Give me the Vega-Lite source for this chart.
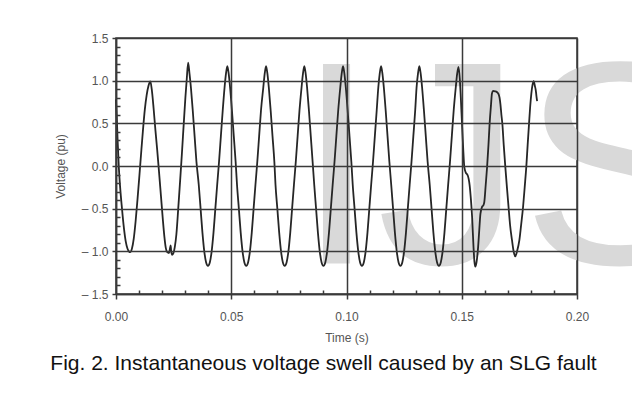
{
  "$schema": "https://vega.github.io/schema/vega-lite/v6.json",
  "width": 461,
  "height": 256,
  "autosize": {"type": "none"},
  "padding": {"left": 116, "top": 38, "right": 55, "bottom": 106},
  "background": "white",
  "config": {
    "view": {"stroke": "#3a3a3a", "strokeWidth": 1.5},
    "font": "Liberation Sans"
  },
  "title": {
    "text": "Fig. 2. Instantaneous voltage swell caused by an SLG fault",
    "orient": "bottom",
    "anchor": "middle",
    "fontSize": 21,
    "font": "Liberation Sans",
    "fontWeight": "normal",
    "color": "#111111",
    "dx": -23,
    "offset": 10
  },
  "resolve": {"axis": {"x": "independent", "y": "independent"}},
  "layer": [
    {
      "data": {"values": [{"mark": "IJS"}]},
      "mark": {"type": "text", "align": "left", "baseline": "alphabetic", "fontSize": 290, "font": "Liberation Sans", "color": "#d9d9d9"},
      "encoding": {
        "x": {
          "datum": 0.0782, "type": "quantitative",
          "axis": {
            "orient": "bottom", "title": null, "labels": false, "domain": false, "grid": false,
            "values": [0.01,0.02,0.03,0.04,0.06,0.07,0.08,0.09,0.11,0.12,0.13,0.14,0.16,0.17,0.18,0.19],
            "tickCount": 100, "tickSize": -4, "tickColor": "#3a3a3a", "tickWidth": 1.5, "zindex": 1
          }
        },
        "y": {
          "datum": -1.144, "type": "quantitative",
          "axis": {
            "orient": "left", "title": null, "labels": false, "domain": false, "grid": false,
            "values": [-1.4,-1.3,-1.2,-1.1,-0.9,-0.8,-0.7,-0.6,-0.4,-0.3,-0.2,-0.1,0.1,0.2,0.3,0.4,0.6,0.7,0.8,0.9,1.1,1.2,1.3,1.4],
            "tickCount": 100, "tickSize": -4, "tickColor": "#3a3a3a", "tickWidth": 1.5, "zindex": 1
          }
        },
        "text": {"field": "mark"}
      }
    },
    {
      "data": {"values": [
        {"t":0.0000,"v":0.78},{"t":0.0003,"v":0.6},{"t":0.0007,"v":0.3},{"t":0.0012,"v":0.0},{"t":0.0018,"v":-0.25},{"t":0.0026,"v":-0.5},{"t":0.0034,"v":-0.72},{"t":0.0042,"v":-0.88},{"t":0.0050,"v":-0.97},{"t":0.0056,"v":-1.0},{"t":0.0061,"v":-1.01},
        {"t":0.0069,"v":-0.97},{"t":0.0077,"v":-0.85},{"t":0.0085,"v":-0.65},{"t":0.0093,"v":-0.4},{"t":0.0101,"v":-0.13},{"t":0.0109,"v":0.15},{"t":0.0117,"v":0.42},{"t":0.0125,"v":0.66},{"t":0.0133,"v":0.83},{"t":0.0141,"v":0.94},{"t":0.0149,"v":0.99},
        {"t":0.0155,"v":0.9},{"t":0.0163,"v":0.68},{"t":0.0171,"v":0.42},{"t":0.0179,"v":0.18},{"t":0.0187,"v":-0.08},{"t":0.0195,"v":-0.35},{"t":0.0203,"v":-0.62},{"t":0.0210,"v":-0.83},{"t":0.0216,"v":-0.96},{"t":0.0222,"v":-1.01},{"t":0.0230,"v":-1.02},{"t":0.0234,"v":-0.97},{"t":0.0237,"v":-0.93},{"t":0.0239,"v":-0.99},{"t":0.0243,"v":-1.04},{"t":0.0249,"v":-1.02},{"t":0.0255,"v":-0.95},{"t":0.0262,"v":-0.8},{"t":0.0270,"v":-0.5},{"t":0.0278,"v":-0.18},{"t":0.0286,"v":0.15},{"t":0.0294,"v":0.5},{"t":0.0301,"v":0.8},{"t":0.0307,"v":1.02},{"t":0.0313,"v":1.21},
        {"t":0.0319,"v":1.08},{"t":0.0325,"v":0.92},{"t":0.0333,"v":0.65},{"t":0.0341,"v":0.35},{"t":0.0349,"v":0.05},{"t":0.0359,"v":-0.22},{"t":0.0367,"v":-0.5},{"t":0.0375,"v":-0.78},{"t":0.0383,"v":-1.0},{"t":0.0391,"v":-1.13},{"t":0.0399,"v":-1.17},
        {"t":0.0407,"v":-1.13},{"t":0.0415,"v":-1.0},{"t":0.0423,"v":-0.78},{"t":0.0431,"v":-0.5},{"t":0.0439,"v":-0.22},{"t":0.0447,"v":0.05},{"t":0.0455,"v":0.35},{"t":0.0463,"v":0.65},{"t":0.0471,"v":0.92},{"t":0.0477,"v":1.08},{"t":0.0483,"v":1.17},
        {"t":0.0489,"v":1.08},{"t":0.0495,"v":0.92},{"t":0.0503,"v":0.65},{"t":0.0511,"v":0.35},{"t":0.0519,"v":0.05},{"t":0.0525,"v":-0.22},{"t":0.0533,"v":-0.5},{"t":0.0541,"v":-0.78},{"t":0.0549,"v":-1.0},{"t":0.0557,"v":-1.13},{"t":0.0565,"v":-1.17},
        {"t":0.0573,"v":-1.13},{"t":0.0581,"v":-1.0},{"t":0.0589,"v":-0.78},{"t":0.0597,"v":-0.5},{"t":0.0605,"v":-0.22},{"t":0.0613,"v":0.05},{"t":0.0621,"v":0.35},{"t":0.0629,"v":0.65},{"t":0.0639,"v":0.92},{"t":0.0645,"v":1.08},{"t":0.0651,"v":1.17},
        {"t":0.0657,"v":1.08},{"t":0.0663,"v":0.92},{"t":0.0671,"v":0.65},{"t":0.0679,"v":0.35},{"t":0.0687,"v":0.05},{"t":0.0692,"v":-0.22},{"t":0.0700,"v":-0.5},{"t":0.0708,"v":-0.78},{"t":0.0716,"v":-1.0},{"t":0.0724,"v":-1.13},{"t":0.0732,"v":-1.17},
        {"t":0.0740,"v":-1.13},{"t":0.0748,"v":-1.0},{"t":0.0756,"v":-0.78},{"t":0.0764,"v":-0.5},{"t":0.0772,"v":-0.22},{"t":0.0780,"v":0.05},{"t":0.0788,"v":0.35},{"t":0.0796,"v":0.65},{"t":0.0805,"v":0.92},{"t":0.0811,"v":1.08},{"t":0.0817,"v":1.17},
        {"t":0.0823,"v":1.08},{"t":0.0829,"v":0.92},{"t":0.0837,"v":0.65},{"t":0.0845,"v":0.35},{"t":0.0853,"v":0.05},{"t":0.0860,"v":-0.22},{"t":0.0868,"v":-0.5},{"t":0.0876,"v":-0.78},{"t":0.0884,"v":-1.0},{"t":0.0892,"v":-1.13},{"t":0.0900,"v":-1.17},
        {"t":0.0908,"v":-1.13},{"t":0.0916,"v":-1.0},{"t":0.0924,"v":-0.78},{"t":0.0932,"v":-0.5},{"t":0.0940,"v":-0.22},{"t":0.0948,"v":0.05},{"t":0.0956,"v":0.35},{"t":0.0964,"v":0.65},{"t":0.0973,"v":0.92},{"t":0.0979,"v":1.08},{"t":0.0985,"v":1.17},
        {"t":0.0991,"v":1.08},{"t":0.0997,"v":0.92},{"t":0.1005,"v":0.65},{"t":0.1013,"v":0.35},{"t":0.1021,"v":0.05},{"t":0.1027,"v":-0.22},{"t":0.1035,"v":-0.5},{"t":0.1043,"v":-0.78},{"t":0.1051,"v":-1.0},{"t":0.1059,"v":-1.13},{"t":0.1067,"v":-1.17},
        {"t":0.1075,"v":-1.13},{"t":0.1083,"v":-1.0},{"t":0.1091,"v":-0.78},{"t":0.1099,"v":-0.5},{"t":0.1107,"v":-0.22},{"t":0.1115,"v":0.05},{"t":0.1123,"v":0.35},{"t":0.1131,"v":0.65},{"t":0.1138,"v":0.92},{"t":0.1144,"v":1.08},{"t":0.1150,"v":1.17},
        {"t":0.1156,"v":1.08},{"t":0.1162,"v":0.92},{"t":0.1170,"v":0.65},{"t":0.1178,"v":0.35},{"t":0.1186,"v":0.05},{"t":0.1194,"v":-0.22},{"t":0.1202,"v":-0.5},{"t":0.1210,"v":-0.78},{"t":0.1218,"v":-1.0},{"t":0.1226,"v":-1.13},{"t":0.1234,"v":-1.17},
        {"t":0.1242,"v":-1.13},{"t":0.1250,"v":-1.0},{"t":0.1258,"v":-0.78},{"t":0.1266,"v":-0.5},{"t":0.1274,"v":-0.22},{"t":0.1282,"v":0.05},{"t":0.1290,"v":0.35},{"t":0.1298,"v":0.65},{"t":0.1304,"v":0.92},{"t":0.1310,"v":1.08},{"t":0.1316,"v":1.17},
        {"t":0.1322,"v":1.08},{"t":0.1328,"v":0.92},{"t":0.1336,"v":0.65},{"t":0.1344,"v":0.35},{"t":0.1352,"v":0.05},{"t":0.1361,"v":-0.22},{"t":0.1369,"v":-0.5},{"t":0.1377,"v":-0.78},{"t":0.1385,"v":-1.0},{"t":0.1393,"v":-1.13},{"t":0.1401,"v":-1.17},
        {"t":0.1409,"v":-1.13},{"t":0.1417,"v":-1.0},{"t":0.1425,"v":-0.78},{"t":0.1433,"v":-0.5},{"t":0.1441,"v":-0.22},{"t":0.1449,"v":0.05},{"t":0.1457,"v":0.35},{"t":0.1465,"v":0.65},{"t":0.1474,"v":0.92},{"t":0.1480,"v":1.08},{"t":0.1486,"v":1.16},
        {"t":0.1492,"v":1.0},{"t":0.1496,"v":0.8},{"t":0.1501,"v":0.5},{"t":0.1506,"v":0.22},{"t":0.1511,"v":-0.01},{"t":0.1518,"v":-0.08},{"t":0.1524,"v":-0.1},{"t":0.1530,"v":-0.15},{"t":0.1534,"v":-0.22},{"t":0.1540,"v":-0.4},{"t":0.1545,"v":-0.6},{"t":0.1551,"v":-0.95},{"t":0.1555,"v":-1.12},{"t":0.1559,"v":-1.18},
        {"t":0.1564,"v":-1.13},{"t":0.1571,"v":-0.95},{"t":0.1576,"v":-0.75},{"t":0.1581,"v":-0.56},{"t":0.1588,"v":-0.48},{"t":0.1594,"v":-0.46},{"t":0.1598,"v":-0.42},{"t":0.1604,"v":-0.22},{"t":0.1610,"v":-0.01},{"t":0.1616,"v":0.25},{"t":0.1621,"v":0.5},{"t":0.1627,"v":0.72},{"t":0.1631,"v":0.85},{"t":0.1636,"v":0.88},{"t":0.1645,"v":0.875},{"t":0.1655,"v":0.86},{"t":0.1660,"v":0.84},{"t":0.1664,"v":0.8},{"t":0.1668,"v":0.72},{"t":0.1672,"v":0.6},{"t":0.1676,"v":0.5},{"t":0.1682,"v":0.25},{"t":0.1689,"v":-0.01},{"t":0.1696,"v":-0.25},{"t":0.1703,"v":-0.48},{"t":0.1710,"v":-0.7},{"t":0.1718,"v":-0.87},{"t":0.1725,"v":-1.0},{"t":0.1732,"v":-1.06},
        {"t":0.1740,"v":-1.0},{"t":0.1750,"v":-0.87},{"t":0.1758,"v":-0.68},{"t":0.1766,"v":-0.48},{"t":0.1773,"v":-0.25},{"t":0.1780,"v":-0.01},{"t":0.1786,"v":0.25},{"t":0.1792,"v":0.5},{"t":0.1797,"v":0.7},{"t":0.1802,"v":0.85},{"t":0.1807,"v":0.95},{"t":0.1812,"v":0.995},{"t":0.1817,"v":0.94},{"t":0.1821,"v":0.89},{"t":0.1824,"v":0.82},{"t":0.1827,"v":0.76}
      ]},
      "mark": {"type": "line", "color": "#262626", "strokeWidth": 1.8, "interpolate": "monotone"},
      "encoding": {
        "x": {
          "field": "t", "type": "quantitative",
          "scale": {"domain": [0, 0.2], "nice": false, "zero": false},
          "axis": {
            "orient": "bottom",
            "title": "Time (s)",
            "titleFontSize": 12, "titleColor": "#555555", "titleFontWeight": "normal", "titleFont": "Liberation Sans", "titlePadding": 10,
            "values": [0,0.05,0.1,0.15,0.2],
            "tickCount": 100,
            "format": ".2f",
            "labelFontSize": 12, "labelColor": "#555555", "labelFont": "Liberation Sans", "labelPadding": 12,
            "labelOverlap": false, "labelFlush": false,
            "grid": true, "gridColor": "#3a3a3a", "gridWidth": 1.5,
            "tickSize": 5,
            "tickColor": "#3a3a3a", "tickWidth": 1.5,
            "domainColor": "#3a3a3a", "domainWidth": 1.5,
            "zindex": 1
          }
        },
        "y": {
          "field": "v", "type": "quantitative",
          "scale": {"domain": [-1.5, 1.5], "nice": false, "zero": false},
          "axis": {
            "orient": "left",
            "title": "Voltage (pu)",
            "titleFontSize": 12, "titleColor": "#555555", "titleFontWeight": "normal", "titleFont": "Liberation Sans", "titlePadding": 14,
            "values": [-1.5,-1.0,-0.5,0,0.5,1.0,1.5],
            "tickCount": 100,
            "labelExpr": "datum.value < 0 ? '– ' + format(-datum.value, '.1f') : format(datum.value, '.1f')",
            "labelFontSize": 12, "labelColor": "#555555", "labelFont": "Liberation Sans", "labelPadding": 4,
            "labelOverlap": false, "labelFlush": false,
            "grid": true, "gridColor": "#3a3a3a", "gridWidth": 1.5,
            "tickSize": 4,
            "tickColor": "#3a3a3a", "tickWidth": 1.5,
            "domainColor": "#3a3a3a", "domainWidth": 1.5,
            "zindex": 1
          }
        }
      }
    }
  ]
}
